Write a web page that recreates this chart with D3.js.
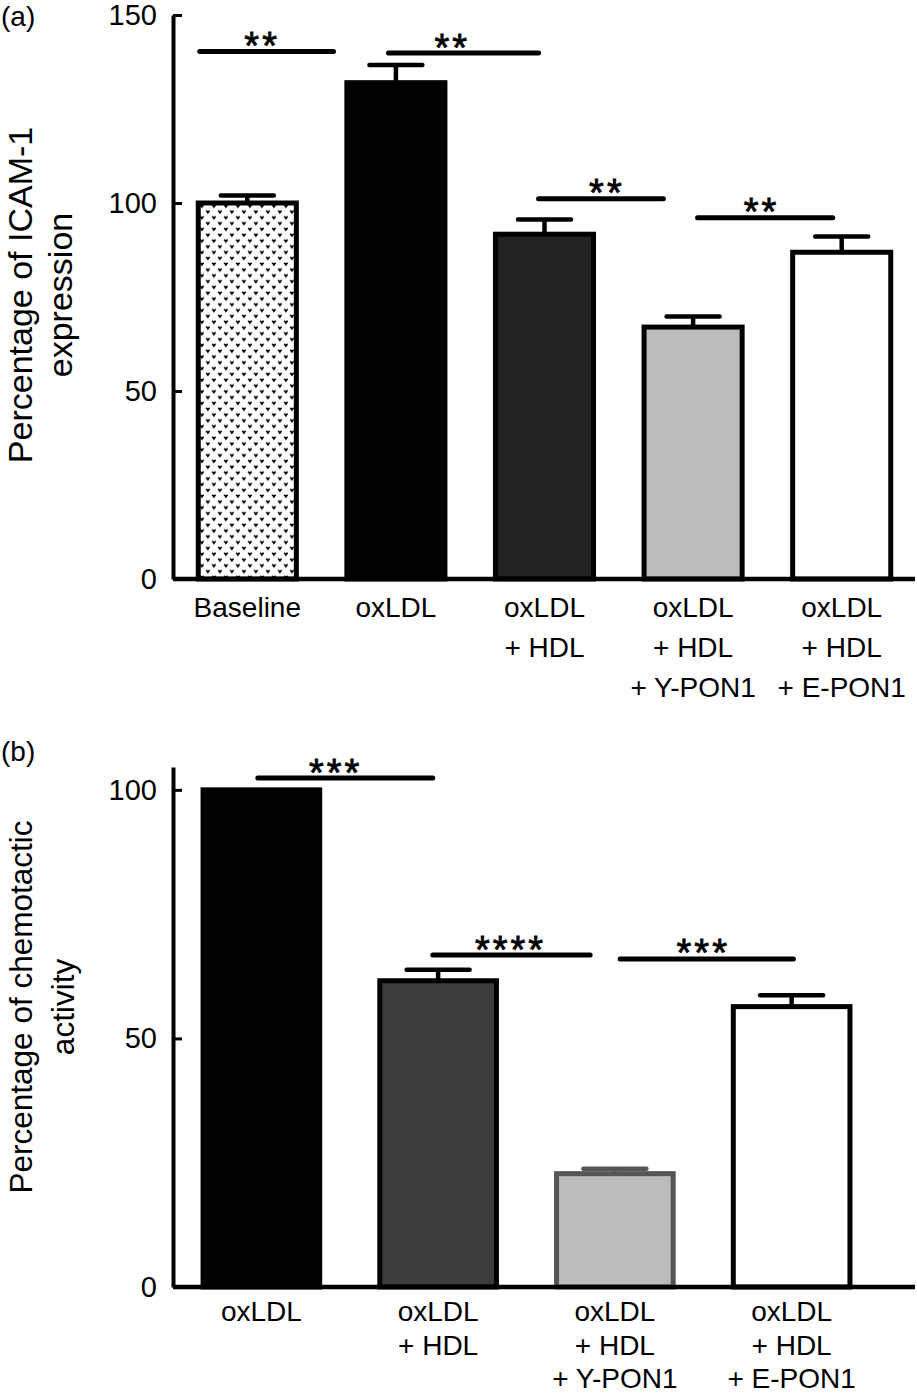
<!DOCTYPE html>
<html>
<head>
<meta charset="utf-8">
<script src="https://cdn.jsdelivr.net/npm/d3@7"></script>
<style>
body { margin: 0; background: #fff; }
svg text { font-family: "Liberation Sans", Arial, sans-serif; fill: #000; }
</style>
</head>
<body>
<div id="chart"></div>
<script>
// panel (a) ICAM-1 expression
var icamLabels = [["Baseline"], ["oxLDL"], ["oxLDL", "+ HDL"], ["oxLDL", "+ HDL", "+ Y-PON1"], ["oxLDL", "+ HDL", "+ E-PON1"]]
var icamValues = [100, 132, 91.7, 67, 86.9]
var icamErrors = [2, 4.7, 3.9, 2.8, 4.2]
var icamTicks = [0, 50, 100, 150]
var icamTitle = ["Percentage of ICAM-1", "expression"]
// [from, to, height, stars at, text]  (from/to in category units)
var icamSig = [
    [-0.32, 0.58, 140.3, 0.10, "**"],
    [0.95, 1.96, 139.9, 1.38, "**"],
    [1.96, 2.80, 101.1, 2.42, "**"],
    [3.03, 3.94, 96.1, 3.46, "**"]
]

// panel (b) chemotactic activity
var chemoLabels = [["oxLDL"], ["oxLDL", "+ HDL"], ["oxLDL", "+ HDL", "+ Y-PON1"], ["oxLDL", "+ HDL", "+ E-PON1"]]
var chemoValues = [100, 61.6, 22.8, 56.4]
var chemoErrors = [0, 2.2, 1.0, 2.3]
var chemoTicks = [0, 50, 100]
var chemoTitle = ["Percentage of chemotactic", "activity"]
var chemoSig = [
    [-0.02, 0.97, 102.4, 0.42, "***"],
    [0.97, 1.86, 66.8, 1.41, "****"],
    [2.03, 3.01, 66.0, 2.50, "***"]
]

var width = 917, height = 1395

var svg = d3.select("#chart")
    .append("svg")
    .attr("width", width)
    .attr("height", height)

var defs = svg.append("defs")
var pat = defs.append("pattern")
    .attr("id", "dots")
    .attr("patternUnits", "userSpaceOnUse")
    .attr("width", 12)
    .attr("height", 11.6)
pat.append("rect").attr("width", 12).attr("height", 11.6).attr("fill", "#fff")
pat.selectAll("path")
    .data([[1.5, 1.2], [7.5, 7]])
    .enter()
    .append("path")
    .attr("d", "M0,0.8 Q1.2,-0.6 2.4,1 Q3.6,-0.6 4.8,0.8 L2.4,4.2 Z")
    .attr("transform", d => "translate(" + d[0] + "," + d[1] + ")")
    .attr("fill", "#000")

function drawPanel(p) {

    var g = svg.append("g")

    var x = d3.scaleBand()
        .domain(p.labels.map((d, i) => i))
        .range(p.xRange)
        .paddingInner(0.34)
        .paddingOuter(0.17)

    var y = d3.scaleLinear()
        .domain(p.yDomain)
        .range(p.yRange)

    var bw = x.bandwidth()
    var n = p.labels.length

    var xIndex = d3.scaleLinear()
        .domain([0, n - 1])
        .range([x(0) + bw / 2, x(n - 1) + bw / 2])

    // error bars
    var err = g.selectAll(".err")
        .data(p.values.map((v, i) => ({ v: v, e: p.errors[i], i: i })).filter(d => d.e > 0))
        .enter()
        .append("g")
        .attr("stroke", d => p.strokes[d.i])
        .attr("stroke-width", 4.5)

    err.append("line")
        .attr("x1", d => x(d.i) + bw / 2)
        .attr("x2", d => x(d.i) + bw / 2)
        .attr("y1", d => y(d.v))
        .attr("y2", d => y(d.v + d.e))

    err.append("line")
        .attr("stroke-linecap", "round")
        .attr("x1", d => x(d.i) + bw / 2 - bw * 0.27)
        .attr("x2", d => x(d.i) + bw / 2 + bw * 0.27)
        .attr("y1", d => y(d.v + d.e))
        .attr("y2", d => y(d.v + d.e))

    // bars
    g.selectAll(".bar")
        .data(p.values)
        .enter()
        .append("rect")
        .attr("x", (d, i) => x(i))
        .attr("y", d => y(d))
        .attr("width", bw)
        .attr("height", d => y(0) - y(d))
        .attr("fill", (d, i) => p.fills[i])
        .attr("stroke", (d, i) => p.strokes[i])
        .attr("stroke-width", 5)

    // x axis line
    g.append("line")
        .attr("x1", p.xRange[0])
        .attr("x2", width - 2)
        .attr("y1", y(0))
        .attr("y2", y(0))
        .attr("stroke", "#000")
        .attr("stroke-width", 4.5)

    // y axis
    var axisY = d3.axisLeft(y)
        .tickValues(p.ticks)
        .tickSize(-9)
        .tickSizeOuter(0)
        .tickPadding(16)

    var ay = g.append("g")
        .attr("transform", "translate(" + p.xRange[0] + ",0)")
        .call(axisY)
    ay.select(".domain").attr("stroke", "#000").attr("stroke-width", 4)
    ay.selectAll(".tick line").attr("stroke", "#000").attr("stroke-width", 3)
    ay.selectAll(".tick text")
        .attr("font-size", 29)
        .attr("font-family", "Liberation Sans, Arial, sans-serif")
        .attr("fill", "#000")

    // category labels
    var axisX = d3.axisBottom(x).tickSize(0).tickFormat("")
    var ax = g.append("g")
        .attr("transform", "translate(0," + y(0) + ")")
        .call(axisX)
    ax.select(".domain").remove()
    ax.selectAll(".tick text").remove()
    ax.selectAll(".tick")
        .append("text")
        .attr("text-anchor", "middle")
        .attr("font-size", 28)
        .selectAll("tspan")
        .data(i => p.labels[i])
        .enter()
        .append("tspan")
        .attr("x", 0)
        .attr("y", (d, j) => p.labelTop + j * p.labelGap)
        .text(d => d)

    // significance bars
    var sig = g.selectAll(".sig")
        .data(p.sig)
        .enter()
        .append("g")

    sig.append("line")
        .attr("x1", d => xIndex(d[0]))
        .attr("x2", d => xIndex(d[1]))
        .attr("y1", d => y(d[2]))
        .attr("y2", d => y(d[2]))
        .attr("stroke", "#000")
        .attr("stroke-width", 5)
        .attr("stroke-linecap", "round")

    sig.append("text")
        .attr("x", d => xIndex(d[3]))
        .attr("y", d => y(d[2]))
        .attr("dy", "0.2em")
        .attr("text-anchor", "middle")
        .attr("font-size", 38)
        .attr("letter-spacing", 3)
        .attr("stroke", "#000")
        .attr("stroke-width", 0.8)
        .text(d => d[4])

    // y title
    g.append("text")
        .attr("transform", "translate(32," + p.titleY + ") rotate(-90)")
        .attr("text-anchor", "middle")
        .attr("font-size", p.titleSize)
        .selectAll("tspan")
        .data(p.title)
        .enter()
        .append("tspan")
        .attr("x", 0)
        .attr("y", (d, j) => j * p.titleGap)
        .text(d => d)

    g.append("text")
        .attr("x", 1)
        .attr("y", p.tagY)
        .attr("font-size", 28)
        .text(p.tag)
}

drawPanel({
    labels: icamLabels, values: icamValues, errors: icamErrors, ticks: icamTicks,
    sig: icamSig, title: icamTitle, tag: "(a)", tagY: 26,
    fills: ["url(#dots)", "#000", "#232323", "#bcbcbc", "#fff"],
    strokes: ["#000", "#000", "#000", "#000", "#000"],
    xRange: [173, 916], yDomain: [0, 150], yRange: [579, 15],
    labelTop: 38, labelGap: 40, titleY: 295, titleSize: 34, titleGap: 40
})

drawPanel({
    labels: chemoLabels, values: chemoValues, errors: chemoErrors, ticks: chemoTicks,
    sig: chemoSig, title: chemoTitle, tag: "(b)", tagY: 761,
    fills: ["#000", "#3d3d3d", "#bbbbbb", "#fff"],
    strokes: ["#000", "#000", "#555", "#000"],
    xRange: [173, 880], yDomain: [0, 104.6], yRange: [1287, 767],
    labelTop: 34, labelGap: 33.5, titleY: 1007, titleSize: 31.5, titleGap: 42
})
</script>
</body>
</html>
